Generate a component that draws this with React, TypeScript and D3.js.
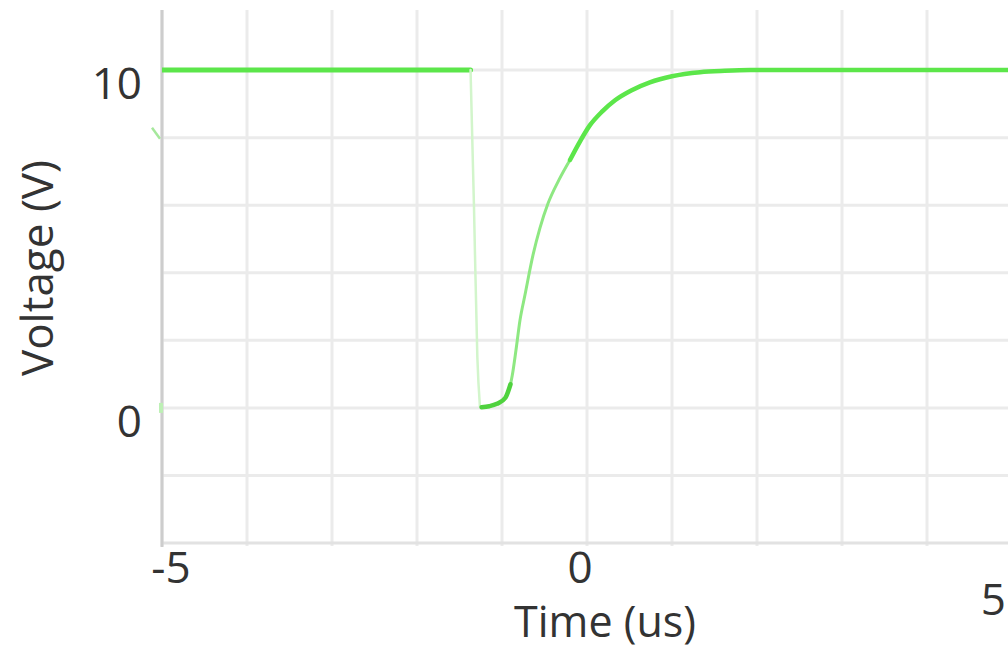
import React from "react";
import * as d3 from "d3";

// ---- data ----
const xTicks = [-5, 0, 5];
const yTicks = [0, 10];
const xGrid = [-5, -4, -3, -2, -1, 0, 1, 2, 3, 4, 5];
const yGrid = [-4, -2, 0, 2, 4, 6, 8, 10];
const xDomain = [-5, 5];
const yDomain = [-4, 11.78];

// plateau before the edge
const preTime = [-5, -1.37];
const preVolt = [10, 10];
// fast falling edge
const edgeTime = [-1.37, -1.33, -1.29, -1.26];
const edgeVolt = [10, 6, 1.5, 0.05];
// bottom of the pulse
const bottomTime = [-1.24, -1.15, -1.06, -0.96, -0.9];
const bottomVolt = [0.02, 0.05, 0.12, 0.3, 0.7];
// steep recovery
const riseTime = [-0.9, -0.88, -0.835, -0.788, -0.73, -0.635, -0.553, -0.459, -0.33, -0.2];
const riseVolt = [0.7, 0.95, 1.72, 2.6, 3.34, 4.53, 5.33, 6.05, 6.75, 7.34];
// settling to the plateau
const settleTime = [-0.2, -0.08, 0.035, 0.18, 0.33, 0.52, 0.74, 1.0, 1.33, 1.62, 1.92, 3, 5];
const settleVolt = [7.34, 7.9, 8.37, 8.78, 9.11, 9.4, 9.64, 9.82, 9.94, 9.98, 10, 10, 10];

const W = 1008;
const H = 648;
const left = 162;
const right = 1012;
const top = 10;
const bottom = 543;

const GREEN = "#5ce64a";
const FONT = "'Open Sans', 'DejaVu Sans', sans-serif";

export default function App() {
  const x = d3.scaleLinear().domain(xDomain).range([left, right]);
  const y = d3.scaleLinear().domain(yDomain).range([bottom, top]);
  const line = d3
    .line<[number, number]>()
    .x((d) => x(d[0]))
    .y((d) => y(d[1]))
    .curve(d3.curveMonotoneX);
  const lineLin = d3
    .line<[number, number]>()
    .x((d) => x(d[0]))
    .y((d) => y(d[1]));
  const zip = (t: number[], v: number[]) => t.map((tt, i) => [tt, v[i]] as [number, number]);

  const xLabelDx = [9, -7, 0];
  const xLabelY = [566, 566, 598];

  return (
    <svg
      width={W}
      height={H}
      style={{ position: "absolute", left: 0, top: 0, background: "#fff" }}
    >
      <defs>
        <clipPath id="plot">
          <rect x={left} y={top - 4} width={W - left} height={bottom - top + 8} />
        </clipPath>
      </defs>
      {/* grid */}
      {xGrid.map((t) => (
        <line
          key={"vx" + t}
          x1={x(t)}
          x2={x(t)}
          y1={top}
          y2={bottom + 3}
          stroke="#ebebeb"
          strokeWidth={3}
        />
      ))}
      {yGrid.map((v) => (
        <line
          key={"hy" + v}
          x1={left}
          x2={W}
          y1={y(v)}
          y2={y(v)}
          stroke={v === -4 ? "#e2e2e2" : "#ebebeb"}
          strokeWidth={3}
        />
      ))}
      {/* axis line */}
      <line x1={left} x2={left} y1={top} y2={bottom + 4} stroke="#cdcdcd" strokeWidth={3} />

      {/* trace */}
      <g clipPath="url(#plot)" fill="none" strokeLinecap="round">
        <path d={lineLin(zip(preTime, preVolt)) || ""} stroke={GREEN} strokeWidth={5} />
        <path d={line(zip(edgeTime, edgeVolt)) || ""} stroke="#d2f5cb" strokeWidth={2.5} />
        <path d={line(zip(riseTime, riseVolt)) || ""} stroke="#8ee882" strokeWidth={3} />
        <path d={line(zip(settleTime, settleVolt)) || ""} stroke={GREEN} strokeWidth={4.5} />
        <path d={line(zip(bottomTime, bottomVolt)) || ""} stroke="#4fd23e" strokeWidth={4.5} />
      </g>
      {/* channel marker */}
      <path
        d={`M${left - 10},${y(8) - 10} L${left - 2},${y(8) + 1}`}
        stroke="#a6e89c"
        strokeWidth={2.5}
        fill="none"
      />
      <rect x={left - 3} y={y(0) - 5} width={4} height={10} fill="#bdf0b5" />

      {/* y tick labels */}
      {yTicks.map((v) => (
        <text
          key={"yl" + v}
          x={left - 20}
          y={y(v) + 12}
          textAnchor="end"
          dominantBaseline="central"
          fontFamily={FONT}
          fontSize={44}
          fill="#333"
        >
          {v}
        </text>
      ))}
      {/* x tick labels */}
      {xTicks.map((t, i) => (
        <text
          key={"xl" + t}
          x={i === xTicks.length - 1 ? W - 2 : x(t) + xLabelDx[i]}
          y={xLabelY[i]}
          textAnchor={i === xTicks.length - 1 ? "end" : "middle"}
          dominantBaseline="central"
          fontFamily={FONT}
          fontSize={44}
          fill="#333"
        >
          {t}
        </text>
      ))}
      {/* axis titles */}
      <text
        x={605}
        y={620}
        textAnchor="middle"
        dominantBaseline="central"
        fontFamily={FONT}
        fontSize={43}
        fill="#333"
      >
        Time (us)
      </text>
      <text
        transform={`translate(36,268) rotate(-90)`}
        textAnchor="middle"
        dominantBaseline="central"
        fontFamily={FONT}
        fontSize={44}
        fill="#333"
      >
        Voltage (V)
      </text>
    </svg>
  );
}
